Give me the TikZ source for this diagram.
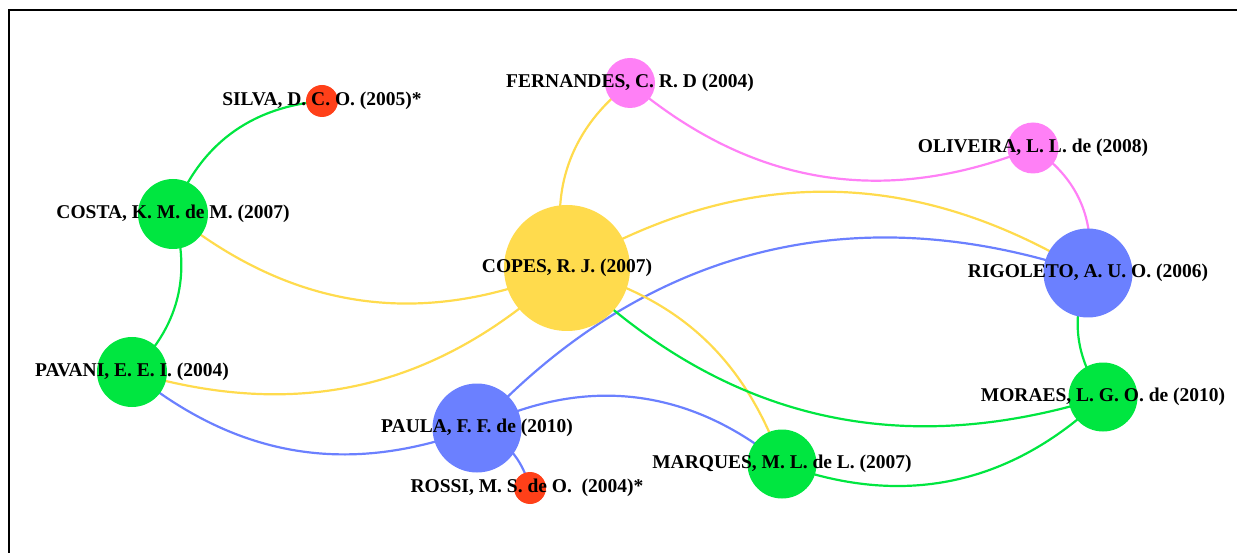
\documentclass[tikz,border=0pt]{standalone}
\usepackage{fontspec}
\setmainfont{Liberation Serif}
\usetikzlibrary{backgrounds}

\definecolor{nodeGreen}{RGB}{0,230,64}
\definecolor{nodeYellow}{RGB}{255,219,77}
\definecolor{nodeBlue}{RGB}{107,128,255}
\definecolor{nodePink}{RGB}{255,128,246}
\definecolor{nodeRed}{RGB}{255,64,25}

\begin{document}
\begin{tikzpicture}[x=1pt,y=-1pt,
  vertex/.style 2 args={circle,inner sep=0pt,outer sep=0pt,minimum size=#1,fill=#2,draw=none},
  lbl/.style={font=\bfseries\fontsize{19.5}{21}\selectfont,inner sep=0pt,text=black},
  link/.style={line width=2.2pt,draw=#1},
  frame/.style={line width=2pt,draw=black}]

\useasboundingbox (0,0) rectangle (1237,553);

% authors (circle size ~ number of links)
\node[vertex={32}{nodeRed}]     (silva)     at (322,101) {};
\node[vertex={70}{nodeGreen}]   (costa)     at (173,214) {};
\node[vertex={70}{nodeGreen}]   (pavani)    at (132,372) {};
\node[vertex={126}{nodeYellow}] (copes)     at (567,268) {};
\node[vertex={50}{nodePink}]    (fernandes) at (630,83) {};
\node[vertex={51}{nodePink}]    (oliveira)  at (1033,148) {};
\node[vertex={89}{nodeBlue}]    (rigoleto)  at (1088,273) {};
\node[vertex={69}{nodeGreen}]   (moraes)    at (1103,397) {};
\node[vertex={69}{nodeGreen}]   (marques)   at (782,464) {};
\node[vertex={89}{nodeBlue}]    (paula)     at (477,428) {};
\node[vertex={32}{nodeRed}]     (rossi)     at (530,488) {};

% co-authorship links, centre to centre, kept under the circles
\begin{pgfonlayer}{background}
\draw[link=nodeGreen]  (costa.center) to[bend left=32]  (silva.center);
\draw[link=nodeGreen]  (costa.center) to[bend left=32]  (pavani.center);
\draw[link=nodeYellow] (costa.center) to[bend right=31] (copes.center);
\draw[link=nodeYellow] (pavani.center) to[bend right=30] (copes.center);
\draw[link=nodeBlue]   (pavani.center) to[bend right=30] (paula.center);
\draw[link=nodeBlue]   (paula.center) to[bend left=26]  (rossi.center);
\draw[link=nodeBlue]   (paula.center) to[bend left=33]  (rigoleto.center);
\draw[link=nodeBlue]   (paula.center) to[bend left=33]  (marques.center);
\draw[link=nodeYellow] (copes.center) to[bend left=34]  (fernandes.center);
\draw[link=nodePink]   (fernandes.center) to[bend right=31] (oliveira.center);
\draw[link=nodePink]   (oliveira.center) to[bend left=33] (rigoleto.center);
\draw[link=nodeYellow] (copes.center) to[bend left=31]  (rigoleto.center);
\draw[link=nodeYellow] (copes.center) to[bend left=28]  (marques.center);
\draw[link=nodeGreen]  (copes.center) to[bend right=31] (moraes.center);
\draw[link=nodeGreen]  (rigoleto.center) to[bend right=28] (moraes.center);
\draw[link=nodeGreen]  (marques.center) to[bend right=32] (moraes.center);
\end{pgfonlayer}

% names
\node[lbl] (silva-l)     at (silva)     {SILVA, D. C. O. (2005)*};
\node[lbl] (costa-l)     at (costa)     {COSTA, K. M. de M. (2007)};
\node[lbl] (pavani-l)    at (pavani)    {PAVANI, E. E. I. (2004)};
\node[lbl] (copes-l)     at (copes)     {COPES, R. J. (2007)};
\node[lbl] (fernandes-l) at (fernandes) {FERNANDES, C. R. D (2004)};
\node[lbl] (oliveira-l)  at (oliveira)  {OLIVEIRA, L. L. de (2008)};
\node[lbl] (rigoleto-l)  at (rigoleto)  {RIGOLETO, A. U. O. (2006)};
\node[lbl] (moraes-l)    at (moraes)    {MORAES, L. G. O. de (2010)};
\node[lbl] (marques-l)   at (marques)   {MARQUES, M. L. de L. (2007)};
\node[lbl] (paula-l)     at (paula)     {PAULA, F. F. de (2010)};
\node[lbl] (rossi-l)     at (527,488)   {ROSSI, M. S. de O.\ \ (2004)*};

% open frame: left and top sides
\coordinate (frameTopRight) at (1237,10);
\coordinate (frameCorner)   at (9,10);
\coordinate (frameBottom)   at (9,553);
\draw[frame] (frameTopRight) -- (frameCorner) -- (frameBottom);
\end{tikzpicture}
\end{document}
